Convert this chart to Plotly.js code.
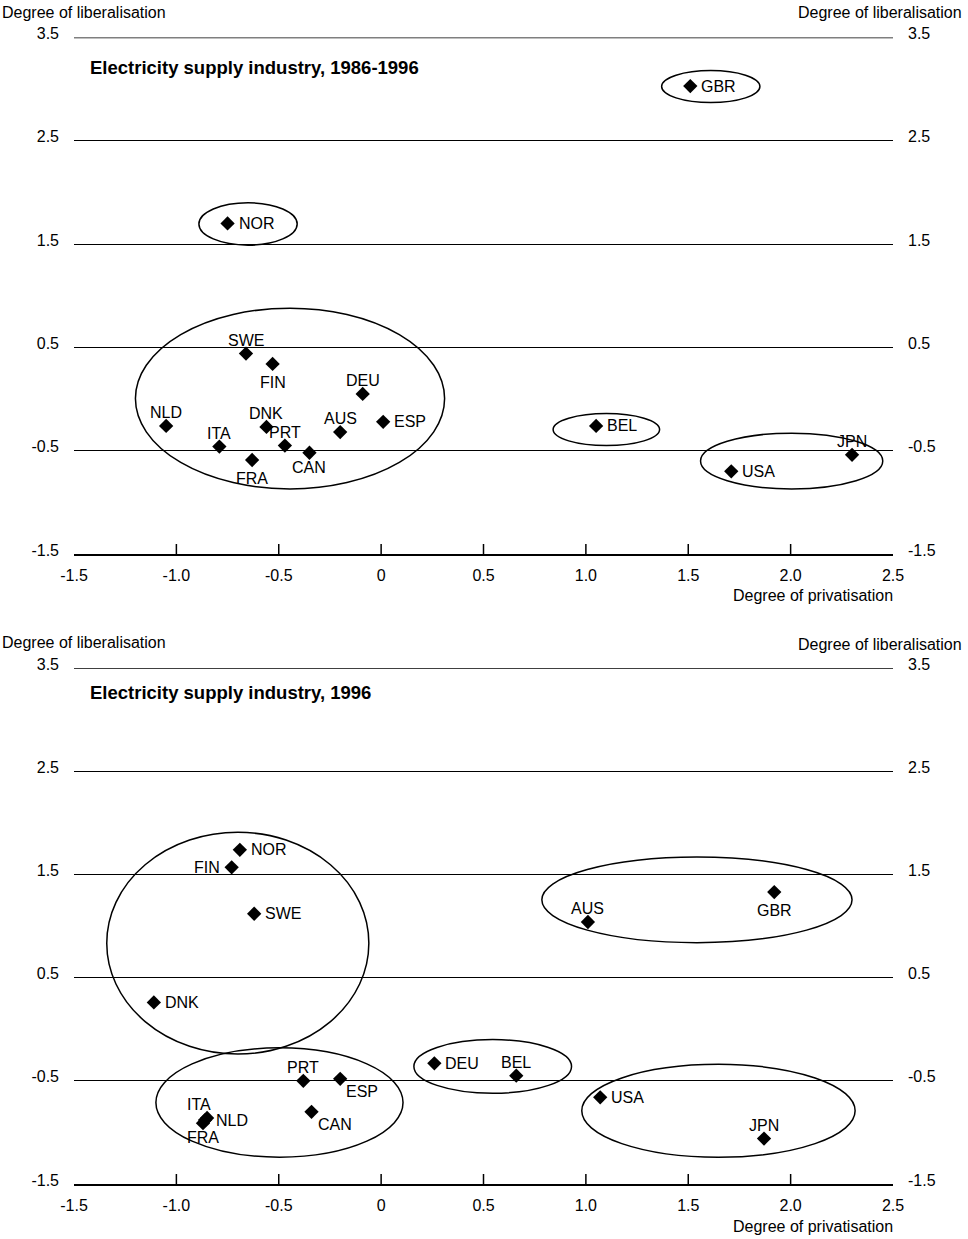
<!DOCTYPE html>
<html>
<head>
<meta charset="utf-8">
<script src="https://cdn.plot.ly/plotly-3.0.1.min.js"></script>
<style>
  html, body { margin: 0; padding: 0; background: #ffffff; }
  #chart { width: 968px; height: 1239px; }
</style>
</head>
<body>
<div id="chart"></div>
<script>
// ---------- Data ----------
const panelTitles = ["Electricity supply industry, 1986-1996", "Electricity supply industry, 1996"];
const yAxisLabel = "Degree of liberalisation";
const xAxisLabel = "Degree of privatisation";

const xTickVals = [-1.5, -1.0, -0.5, 0, 0.5, 1.0, 1.5, 2.0, 2.5];
const xTickText = ["-1.5", "-1.0", "-0.5", "0", "0.5", "1.0", "1.5", "2.0", "2.5"];
const yTickVals = [3.5, 2.5, 1.5, 0.5, -0.5, -1.5];
const yTickText = ["3.5", "2.5", "1.5", "0.5", "-0.5", "-1.5"];

// Panel 1: 1986-1996
const countries1986 = ["GBR", "NOR", "SWE", "FIN", "DEU", "NLD", "DNK", "ESP", "AUS", "ITA", "PRT", "CAN", "FRA", "BEL", "JPN", "USA"];
const privatisation1986 = [1.51, -0.75, -0.66, -0.53, -0.09, -1.05, -0.56, 0.01, -0.20, -0.79, -0.47, -0.35, -0.63, 1.05, 2.30, 1.71];
const liberalisation1986 = [3.03, 1.70, 0.44, 0.34, 0.05, -0.26, -0.27, -0.22, -0.32, -0.46, -0.45, -0.52, -0.59, -0.26, -0.54, -0.70];

// Panel 2: 1996
const countries1996 = ["NOR", "FIN", "SWE", "DNK", "PRT", "ESP", "CAN", "ITA", "NLD", "FRA", "DEU", "BEL", "USA", "JPN", "GBR", "AUS"];
const privatisation1996 = [-0.69, -0.73, -0.62, -1.11, -0.38, -0.20, -0.34, -0.85, -0.86, -0.87, 0.26, 0.66, 1.07, 1.87, 1.92, 1.01];
const liberalisation1996 = [1.74, 1.57, 1.12, 0.26, -0.50, -0.48, -0.80, -0.86, -0.88, -0.91, -0.33, -0.45, -0.66, -1.06, 1.33, 1.04];

// Group outlines (ellipse bounds: x0, y0, x1, y1)
const groups1986 = [
  [-1.20, 0.88, 0.31, -0.87],
  [-0.89, 1.90, -0.41, 1.49],
  [1.37, 3.18, 1.85, 2.87],
  [0.84, -0.14, 1.36, -0.45],
  [1.56, -0.33, 2.45, -0.87]
];
const groups1996 = [
  [-1.34, 1.91, -0.06, -0.24],
  [0.785, 1.67, 2.30, 0.84],
  [-1.10, -0.18, 0.107, -1.24],
  [0.16, -0.10, 0.93, -0.62],
  [0.98, -0.34, 2.315, -1.24]
];

// ---------- Label placement (style) ----------
const labelPos1986 = {
  GBR: "R", NOR: "R", SWE: "T", FIN: "B", DEU: "T", NLD: "T", DNK: "T", ESP: "R",
  AUS: "T", ITA: "T", PRT: "T", CAN: "BN", FRA: "B", BEL: "R", JPN: "T", USA: "R"
};
const labelPos1996 = {
  NOR: "R", FIN: "L", SWE: "R", DNK: "R", PRT: "T", ESP: "BR", CAN: "BR", ITA: "TL",
  NLD: "R", FRA: "BN", DEU: "R", BEL: "T", USA: "R", JPN: "T", GBR: "B", AUS: "T"
};
const posStyle = {
  R:  { xanchor: "left",   yanchor: "middle", xshift: 10, yshift: 0 },
  L:  { xanchor: "right",  yanchor: "middle", xshift: -11, yshift: 0 },
  T:  { xanchor: "center", yanchor: "bottom", xshift: 0,  yshift: 4 },
  TL: { xanchor: "center", yanchor: "bottom", xshift: -8, yshift: 4 },
  B:  { xanchor: "center", yanchor: "top",    xshift: 0,  yshift: -9 },
  BN: { xanchor: "center", yanchor: "top",    xshift: 0,  yshift: -5 },
  BR: { xanchor: "left",   yanchor: "top",    xshift: 5,  yshift: -3 }
};

// ---------- Build ----------
const FONT = "Liberation Sans, Arial, Helvetica, sans-serif";

function markers(xs, ys, names, xa, ya) {
  return {
    type: "scatter", mode: "markers",
    x: xs, y: ys, text: names,
    marker: { symbol: "diamond", size: 11, color: "#000" },
    xaxis: xa, yaxis: ya, hoverinfo: "text", cliponaxis: false, showlegend: false
  };
}
function dummy(xa, ya) {
  return { type: "scatter", mode: "markers", x: [null], y: [null], xaxis: xa, yaxis: ya, showlegend: false, hoverinfo: "skip" };
}

const data = [
  markers(privatisation1986, liberalisation1986, countries1986, "x", "y"),
  markers(privatisation1996, liberalisation1996, countries1996, "x2", "y2"),
  dummy("x", "y3"),
  dummy("x2", "y4")
];

const W = 968, H = 1239;
const xDom = [74 / W, 893 / W];
const yDomTop = [(H - 554) / H, (H - 37.5) / H];
const yDomBot = [(H - 1184) / H, (H - 668.3) / H];

const tickFont = { family: FONT, size: 16, color: "#000" };

function xAxis(anchor) {
  return {
    domain: xDom, anchor: anchor, range: [-1.5, 2.5], fixedrange: true,
    tickmode: "array", tickvals: xTickVals, ticktext: xTickText,
    ticks: "", showgrid: false, zeroline: false,
    showline: true, linecolor: "#000", linewidth: 2,
    tickfont: tickFont, ticklabelstandoff: 6
  };
}
function yAxisLeft(dom, anchor) {
  return {
    domain: dom, anchor: anchor, range: [-1.5, 3.5], fixedrange: true,
    tickmode: "array", tickvals: yTickVals, ticktext: yTickText,
    ticks: "", showgrid: true, gridcolor: "#000", gridwidth: 1,
    zeroline: false, showline: false,
    tickfont: tickFont, ticklabelstandoff: 14, ticklabelshift: -4
  };
}
function yAxisRight(dom, anchor, over) {
  return {
    domain: dom, anchor: anchor, overlaying: over, side: "right",
    range: [-1.5, 3.5], fixedrange: true,
    tickmode: "array", tickvals: yTickVals, ticktext: yTickText,
    ticks: "", showgrid: false, zeroline: false, showline: false,
    tickfont: tickFont, ticklabelstandoff: 14, ticklabelshift: -4
  };
}

const shapes = [];
function addEllipses(groups, xr, yr) {
  groups.forEach(g => shapes.push({
    type: "circle", xref: xr, yref: yr,
    x0: g[0], y0: g[1], x1: g[2], y1: g[3],
    line: { color: "#000", width: 1.5 }, fillcolor: "rgba(0,0,0,0)", layer: "above"
  }));
}
addEllipses(groups1986, "x", "y");
addEllipses(groups1996, "x2", "y2");

// interior tick marks on the x axis (pointing up) and the top grid line
function addAxisMarks(xr, yr) {
  xTickVals.slice(1, -1).forEach(v => shapes.push({
    type: "line", xref: xr, yref: yr + " domain",
    x0: v, x1: v, y0: 0, y1: 10 / 515,
    line: { color: "#000", width: 1.5 }
  }));
  shapes.push({
    type: "line", xref: xr + " domain", yref: yr,
    x0: 0, x1: 1, y0: yTickVals[0], y1: yTickVals[0],
    line: { color: "#000", width: 1.5 }
  });
}
addAxisMarks("x", "y");
addAxisMarks("x2", "y2");

function pY(px) { return (H - px) / H; }
const annotations = [];
function addPanelText(title, titleY, labelY, labelYRight, privY) {
  annotations.push({ xref: "paper", yref: "paper", x: 88 / W, y: pY(titleY), xanchor: "left", yanchor: "middle",
    text: "<b>" + title + "</b>", showarrow: false, font: { family: FONT, size: 18.5, color: "#000" } });
  annotations.push({ xref: "paper", yref: "paper", x: 0, y: pY(labelY), xanchor: "left", yanchor: "middle",
    text: yAxisLabel, showarrow: false, font: { family: FONT, size: 16, color: "#000" } });
  annotations.push({ xref: "paper", yref: "paper", x: 964 / W, y: pY(labelYRight), xanchor: "right", yanchor: "middle",
    text: yAxisLabel, showarrow: false, font: { family: FONT, size: 16, color: "#000" } });
  annotations.push({ xref: "paper", yref: "paper", x: 895 / W, y: pY(privY), xanchor: "right", yanchor: "middle",
    text: xAxisLabel, showarrow: false, font: { family: FONT, size: 16, color: "#000" } });
}
addPanelText(panelTitles[0], 67, 13, 13, 595);
addPanelText(panelTitles[1], 692, 642, 644, 1226);

function addLabels(xs, ys, names, posMap, xr, yr) {
  names.forEach((n, i) => {
    const s = posStyle[posMap[n]];
    annotations.push({
      xref: xr, yref: yr, x: xs[i], y: ys[i], text: n, showarrow: false,
      xanchor: s.xanchor, yanchor: s.yanchor, xshift: s.xshift, yshift: s.yshift,
      borderpad: 0, font: { family: FONT, size: 16, color: "#000" }
    });
  });
}
addLabels(privatisation1986, liberalisation1986, countries1986, labelPos1986, "x", "y");
addLabels(privatisation1996, liberalisation1996, countries1996, labelPos1996, "x2", "y2");

const layout = {
  width: W, height: H,
  margin: { l: 0, r: 0, t: 0, b: 0 },
  paper_bgcolor: "#fff", plot_bgcolor: "rgba(0,0,0,0)",
  showlegend: false,
  font: { family: FONT, color: "#000" },
  xaxis: xAxis("y"),
  yaxis: yAxisLeft(yDomTop, "x"),
  xaxis2: xAxis("y2"),
  yaxis2: yAxisLeft(yDomBot, "x2"),
  yaxis3: yAxisRight(yDomTop, "x", "y"),
  yaxis4: yAxisRight(yDomBot, "x2", "y2"),
  shapes: shapes,
  annotations: annotations
};

Plotly.newPlot("chart", data, layout, { staticPlot: true, displayModeBar: false });
</script>
</body>
</html>
